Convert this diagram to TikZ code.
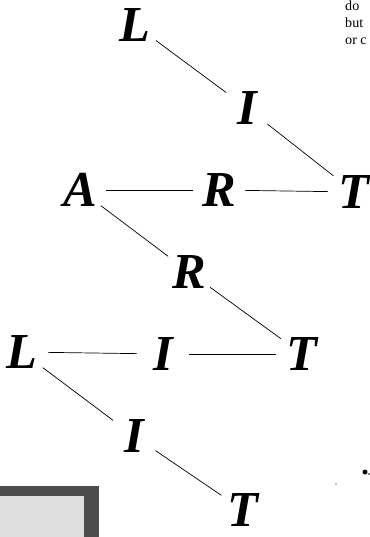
\documentclass[tikz,border=0pt]{standalone}
\usepackage{fontspec}
\setmainfont{Liberation Serif}
\usepackage{xcolor}
\usetikzlibrary{positioning}

\tikzset{
  letter/.style={circle, minimum size=1.55cm, inner sep=0pt,
    font=\fontsize{43}{43}\selectfont\bfseries\itshape},
  link/.style={line width=0.6pt},
  margin/.style={anchor=base west, inner sep=0pt, font=\fontsize{12}{12}\selectfont}
}

\begin{document}
\begin{tikzpicture}[x=0.03cm, y=-0.03cm]
  \useasboundingbox (0,0) rectangle (370,537);

  % letters of the word chain
  \node[letter] (l1) at (135,25)  {L};
  \node[letter] (i1) at (247,108) {I};
  \node[letter] (t1) at (354,192) {T};
  \node[letter] (a)  at (80,190)  {A};
  \node[letter] (r1) at (219,190) {R};
  \node[letter] (r2) at (189,272) {R};
  \node[letter] (t2) at (302,354) {T};
  \node[letter] (l2) at (22,352)  {L};
  \node[letter] (i2) at (163,354) {I};
  \node[letter] (i3) at (134,436) {I};
  \node[letter] (t3) at (243,510) {T};

  % connectors
  \draw[link] (l1) -- (i1);
  \draw[link] (i1) -- (t1);
  \draw[link] (a)  -- (r1);
  \draw[link] (r1) -- (t1);
  \draw[link] (a)  -- (r2);
  \draw[link] (r2) -- (t2);
  \draw[link] (l2) -- (i2);
  \draw[link] (i2) -- (t2);
  \draw[link] (l2) -- (i3);
  \draw[link] (i3) -- (t3);

  % bits of the facing page
  \node[margin] (do)  at (345,11) {do};
  \node[margin] (but) at (345,28) {but};
  \node[margin] (orc) at (345,45) {or c};
  \fill[black!70] (0,486) rectangle (99,537);
  \fill[black!13] (0,496) rectangle (84,537);
  \fill (365,472) circle (2.5);
  \fill (369,474) circle (0.9);
  \fill[black!50] (336,484) circle (0.9);
\end{tikzpicture}
\end{document}
